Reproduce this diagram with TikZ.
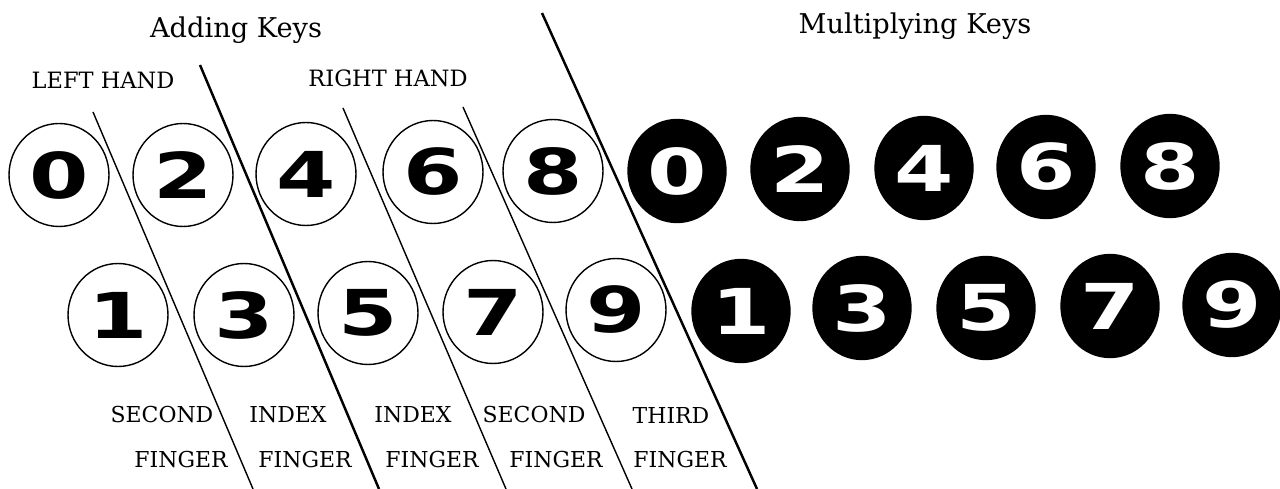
\documentclass[tikz,border=0pt]{standalone}
\usepackage{fontspec}
\setmainfont{DejaVu Serif}
\newfontfamily\keyfont{DejaVu Sans}[FakeStretch=1.35]
\usepackage{xcolor}
\usepackage{tikz}
\usetikzlibrary{shapes.geometric,calc}
\tikzset{
kbadd/.style={ellipse,draw,line width=0.8pt,fill=white,inner sep=0pt,minimum width=2.00cm,minimum height=2.06cm,font=\keyfont\bfseries\fontsize{36}{36}\selectfont},
kbmul/.style={kbadd,fill=black,text=white,draw=black,minimum width=1.96cm},
kbhead/.style={font=\fontsize{15.5}{18}\selectfont,inner sep=1pt},
kbhand/.style={font=\fontsize{12.8}{15}\selectfont,inner sep=1pt},
kbfinger/.style={font=\fontsize{12.5}{15}\selectfont,inner sep=1pt},
kbsplit/.style={line width=0.8pt},
kbdivide/.style={line width=1.4pt}
}
\begin{document}
\begin{tikzpicture}[
x=0.02cm,
y=-0.02cm
]
\useasboundingbox (0,0) rectangle (1280,489);
\node[kbhead] (headadd) at (236,30) {Adding Keys};
\node[kbhead] (headmul) at (915,26) {Multiplying Keys};
\node[kbhand] (lefthand) at (103,80) {LEFT HAND};
\node[kbhand] (righthand) at (388,78) {RIGHT HAND};
\coordinate (split1top) at (93,112);
\coordinate (split1bot) at (253,489);
\coordinate (divide1top) at (200,65);
\coordinate (divide1bot) at (379,489);
\coordinate (split2top) at (343,108);
\coordinate (split2bot) at (506,489);
\coordinate (split3top) at (463,107);
\coordinate (split3bot) at (632,489);
\coordinate (divide2top) at (542,13);
\coordinate (divide2bot) at (757,489);
\draw[kbsplit] (split1top)--(split1bot);
\draw[kbdivide] (divide1top)--(divide1bot);
\draw[kbsplit] (split2top)--(split2bot);
\draw[kbsplit] (split3top)--(split3bot);
\draw[kbdivide] (divide2top)--(divide2bot);
\node[kbadd] (add0) at (59,175) {0};
\node[kbadd] (add2) at (183,175) {2};
\node[kbadd] (add4) at (306,174) {4};
\node[kbadd] (add6) at (433,172) {6};
\node[kbadd] (add8) at (553,171) {8};
\node[kbadd] (add1) at (118,315) {1};
\node[kbadd] (add3) at (244,315) {3};
\node[kbadd] (add5) at (368,313) {5};
\node[kbadd] (add7) at (493,312) {7};
\node[kbadd] (add9) at (616,310) {9};
\node[kbmul] (mul0) at (677,171) {0};
\node[kbmul] (mul2) at (800,169) {2};
\node[kbmul] (mul4) at (924,168) {4};
\node[kbmul] (mul6) at (1046,167) {6};
\node[kbmul] (mul8) at (1170,166) {8};
\node[kbmul] (mul1) at (741,311) {1};
\node[kbmul] (mul3) at (862,308) {3};
\node[kbmul] (mul5) at (986,308) {5};
\node[kbmul] (mul7) at (1110,306) {7};
\node[kbmul] (mul9) at (1232,305) {9};
\node[kbfinger] (secondleft) at (162,415) {SECOND};
\node[kbfinger] (indexleft) at (288,415) {INDEX};
\node[kbfinger] (indexright) at (413,415) {INDEX};
\node[kbfinger] (secondright) at (534,415) {SECOND};
\node[kbfinger] (thirdright) at (671,415) {THIRD};
\node[kbfinger] (fingera) at (181,460) {FINGER};
\node[kbfinger] (fingerb) at (305,460) {FINGER};
\node[kbfinger] (fingerc) at (432,460) {FINGER};
\node[kbfinger] (fingerd) at (556,460) {FINGER};
\node[kbfinger] (fingere) at (680,460) {FINGER};
\end{tikzpicture}
\end{document}
